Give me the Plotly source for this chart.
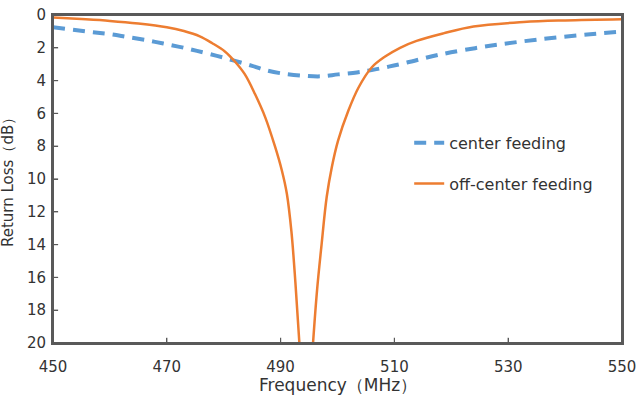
import plotly.graph_objects as go

# center feeding (dashed blue)
center_freq = [450, 456.5, 460, 463, 466.5, 469.4, 472.9, 475.3, 478.8, 482.0, 485.0, 487.3,
               490.0, 493.7, 497.0, 500.1, 503.4, 506.0, 509.0, 512.2, 518.3, 526.8, 535.6,
               544.4, 550]
center_rl = [0.75, 1.03, 1.17, 1.34, 1.54, 1.74, 1.99, 2.19, 2.49, 2.8, 3.1, 3.36,
             3.55, 3.69, 3.74, 3.62, 3.5, 3.36, 3.15, 2.9, 2.39, 1.88, 1.48,
             1.17, 1.01]

# off-center feeding (solid orange); goes below 20 dB between the two gap points
off_freq = [450, 455, 460, 465, 470, 473, 475.8, 478, 480.2, 482.0, 483.7, 485.5, 487.3,
            489.0, 490.2, 491.1, 491.9, 492.6, 493.3, None, 495.7, 496.4, 497.2, 498.1, 499.0,
            500.1, 501.9, 503.7, 506.0, 508.3, 511.0, 513.9, 518.6, 523.9, 532.7, 540, 550]
off_rl = [0.16, 0.25, 0.36, 0.52, 0.75, 0.98, 1.3, 1.72, 2.22, 2.85, 3.61, 4.82, 6.24,
          8.0, 9.45, 10.9, 13.2, 16.3, 20, None, 20, 16.8, 14.0, 11.1, 9.28,
          7.66, 5.84, 4.42, 3.2, 2.55, 2.0, 1.58, 1.12, 0.7, 0.43, 0.33, 0.26]

x_ticks = [450, 470, 490, 510, 530, 550]
y_ticks = [0, 2, 4, 6, 8, 10, 12, 14, 16, 18, 20]

FONT = "DejaVu Sans"
AX = "#595959"
TXT = "#333333"

fig = go.Figure()
fig.add_trace(go.Scatter(x=center_freq, y=center_rl, mode="lines", name="center feeding",
                         line=dict(color="#5B9BD5", width=4, dash="12px,8px",
                                   shape="spline", smoothing=1),
                         legendgroup="a"))
fig.add_trace(go.Scatter(x=off_freq, y=off_rl, mode="lines", name="off-center feeding",
                         line=dict(color="#ED7D31", width=2.5, shape="spline", smoothing=1),
                         connectgaps=False, legendgroup="b"))

# plot-area frame
fig.add_shape(type="rect", xref="x domain", yref="y domain", x0=0, x1=1, y0=0, y1=1,
              line=dict(color=AX, width=2), fillcolor="rgba(0,0,0,0)", layer="above")
# inside tick marks on the left and bottom axes
for yt in y_ticks[1:-1]:
    fig.add_shape(type="line", xref="x domain", yref="y", x0=0, x1=0.009, y0=yt, y1=yt,
                  line=dict(color=AX, width=1.2), layer="above")
for xt in x_ticks[1:-1]:
    fig.add_shape(type="line", xref="x", yref="y domain", x0=xt, x1=xt, y0=0, y1=0.016,
                  line=dict(color=AX, width=1.2), layer="above")

fig.update_layout(
    width=641, height=396,
    margin=dict(l=53, r=19, t=15, b=53, autoexpand=False),
    paper_bgcolor="white", plot_bgcolor="white",
    showlegend=True,
    font=dict(family=FONT, size=15, color=TXT),
    legend=dict(x=0.626, y=0.662, xanchor="left", yanchor="top",
                tracegroupgap=17, bgcolor="rgba(0,0,0,0)",
                font=dict(size=16, color=TXT)),
    xaxis=dict(range=[450, 550], tickvals=x_ticks, ticks="inside", ticklen=5,
               tickcolor=AX, tickwidth=1.2, showline=True, linecolor=AX, linewidth=2,
               mirror=True, showgrid=False, zeroline=False, ticklabelstandoff=9),
    yaxis=dict(range=[20, 0], tickvals=y_ticks, ticks="inside", ticklen=5,
               tickcolor=AX, tickwidth=1.2, showline=True, linecolor=AX, linewidth=2,
               mirror=True, showgrid=False, zeroline=False, ticklabelstandoff=2),
    annotations=[
        dict(text="Frequency（MHz）", xref="paper", yref="paper", x=0.5, y=-0.128,
             xanchor="center", yanchor="middle", showarrow=False,
             font=dict(size=17, color=TXT)),
        dict(text="Return Loss（dB）", xref="paper", yref="paper", x=-0.079, y=0.5,
             xanchor="center", yanchor="middle", textangle=-90, showarrow=False,
             font=dict(size=15, color=TXT)),
    ],
)

fig.write_html("out.html")
